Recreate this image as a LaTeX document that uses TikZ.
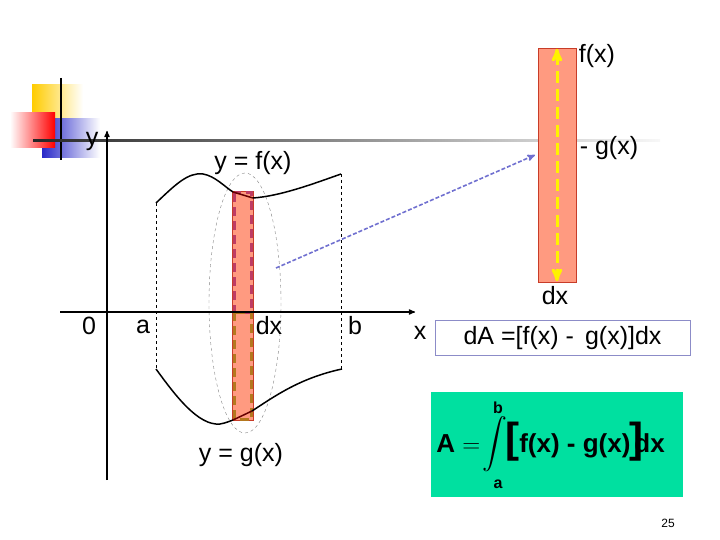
\documentclass[tikz,border=0pt]{standalone}
\usepackage{amsmath}
\usepackage{exscale}
\usepackage{fontspec}
\setmainfont{Liberation Sans}
\usetikzlibrary{arrows, calc, positioning}
\definecolor{salmon}{RGB}{255,154,128}
\definecolor{stripred}{RGB}{200,60,40}
\definecolor{topdash}{RGB}{190,60,100}
\definecolor{botdash}{RGB}{180,120,30}
\definecolor{arrowblue}{RGB}{112,112,208}
\definecolor{boxlav}{RGB}{140,140,200}
\definecolor{mint}{RGB}{0,224,160}
\definecolor{deco yellow}{RGB}{255,204,0}
\definecolor{deco blue}{RGB}{40,40,200}
\newcommand{\bigbr}[1]{{\fontsize{42}{42}\selectfont #1}}

\begin{document}
\begin{tikzpicture}[x=1pt,y=-1pt,>=stealth',semithick,
    font=\fontsize{25}{30}\selectfont,
    lbl/.style={inner sep=0pt},
    bold/.style={lbl, font=\fontsize{26}{30}\selectfont\bfseries},
    lim/.style={lbl, font=\fontsize{16}{18}\selectfont\bfseries},
    strip/.style={fill=salmon, draw=stripred, thin, inner sep=0pt},
    curve/.style={black, line width=1.5pt},
    bound/.style={black, thin, dashed},
    axis/.style={->, black, line width=1.2pt}]

    \useasboundingbox (0,0) rectangle (720,540);

    % title decoration
    \shade[left color=deco yellow, middle color=deco yellow, right color=white] (32,85) rectangle (83,120);
    \shade[left color=deco blue, middle color=deco blue, right color=white] (42,119) rectangle (100,158);
    \shade[left color=white, right color=red] (10,113) rectangle (55,148);
    \draw[black, line width=1.5pt] (61,78) -- (61,160);
    \shade[left color=black!85, middle color=black!25, right color=black!3] (33,140) rectangle (660,142);

    % strip and its dashed halves
    \node[strip, minimum width=21pt, minimum height=229pt] (S) at (242.5,305.5) {};
    \draw[topdash, line width=3pt, dash pattern=on 9pt off 5pt] (234.5,193) rectangle (251.5,312);
    \draw[botdash, line width=3pt, dash pattern=on 9pt off 5pt] (234.5,312) rectangle (251.5,419);
    \draw[black!70!red, thick] (233,312) -- (253,312);

    % region bounds
    \draw[bound] (156,203) -- (156,369);
    \draw[bound] (341,174) -- (341,369);
    \draw[gray, thin, dashed] (245,303) ellipse [x radius=36, y radius=130];

    % f and g
    \draw[curve] (156,203) .. controls (175,185) and (188,172) .. (203,174)
                 .. controls (215,176) and (225,187) .. (233,192);
    \draw[black!60!red, line width=1.5pt] (233,192) -- (253,198);
    \draw[curve] (253,198) .. controls (280,196) and (310,185) .. (341,174);
    \draw[curve] (156,369) .. controls (175,395) and (198,426) .. (220,424)
                 .. controls (226,423) and (230,421) .. (233,420);
    \draw[black!60!red, line width=1.5pt] (233,420) -- (252,411);
    \draw[curve] (252,411) .. controls (275,396) and (300,378) .. (342,369);

    % axes
    \coordinate (O) at (107,312);
    \coordinate (Xl) at (60,312);
    \coordinate (Xe) at (415,312);
    \coordinate (Yb) at (107,480);
    \coordinate (Ye) at (107,131);
    \draw[axis] (Xl) -- (Xe);
    \draw[axis] (Yb) -- (Ye);

    \node[lbl] (ylab) at (92,141) {y};
    \node[lbl] (zero) at (89,326) {0};
    \node[lbl] (a) at (143,327) {a};
    \node[lbl] (dx) at (269,326) {dx};
    \node[lbl] (b) at (355,326) {b};
    \node[lbl] (xlab) at (420,333) {x};
    \node[lbl] (f) at (253,163) {y = f(x)};
    \node[lbl] (g) at (241,455) {y = g(x)};

    % enlarged strip
    \node[strip, minimum width=38pt, minimum height=234pt] (Big) at (557,165) {};
    \draw[<->, yellow, line width=3pt, dash pattern=on 12pt off 6pt, shorten >=1pt, shorten <=1pt] (Big.north) -- (Big.south);
    \node[lbl] (top) at (597,56) {f(x)};
    \node[lbl] (mid) at (609,148) {- g(x)};
    \node[lbl] (w) at (555,296) {dx};

    \coordinate (P) at (276,268);
    \coordinate (Q) at (535,155);
    \draw[->, arrowblue, line width=1.6pt, dash pattern=on 4pt off 2pt] (P) -- (Q);

    % results
    \node[draw=boxlav, thin, minimum width=255pt, minimum height=35pt] (dA) at (562.5,338)
        {dA =[f(x) -\, g(x)]dx};
    \node[fill=mint, minimum width=252pt, minimum height=105pt] (Gr) at (557,444.5) {};
    \node[bold, anchor=base west] (Aeq) at (436,452) {A $=$};
    \node[lbl, font=\fontsize{23}{26}\selectfont] (int) at (495,444) {$\displaystyle\int$};
    \node[lim] (ub) at (498,408) {b};
    \node[lim] (lb) at (498,484) {a};
    \node[bold, anchor=base west] (body) at (505,452)
        {\bigbr{[}f(x) - g(x)\kern-1pt\bigbr{]}\kern-9pt dx};

    \node[lbl, font=\fontsize{12}{14}\selectfont] (pg) at (668,523) {25};
\end{tikzpicture}
\end{document}
